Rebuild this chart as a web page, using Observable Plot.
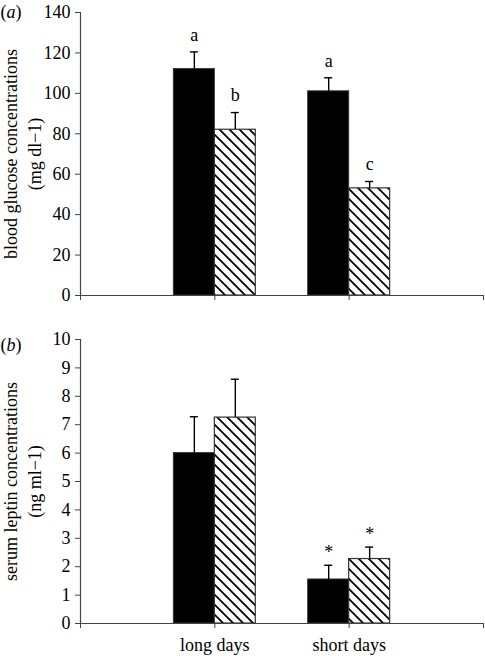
<!DOCTYPE html>
<html><head><meta charset="utf-8">
<script src="https://cdn.jsdelivr.net/npm/d3@7"></script>
<script src="https://cdn.jsdelivr.net/npm/@observablehq/plot@0.6"></script>
<style>body{margin:0;background:#fff} #chart > div, #chart svg{display:block}</style>
</head><body><div id="chart"></div>
<script>
// ---- data ----
const categories = ["long days", "short days"];
const groupPositions = [1, 2];
const xTickValues = [0, 1, 2, 3];

const glucoseControl = [112, 101];
const glucoseControlSe = [8.5, 6.7];
const glucoseTreated = [82, 53];
const glucoseTreatedSe = [8.5, 3.4];
const glucoseLabelsControl = ["a", "a"];
const glucoseLabelsTreated = ["b", "c"];
const glucoseTicks = [0, 20, 40, 60, 80, 100, 120, 140];

const leptinControl = [6.0, 1.55];
const leptinControlSe = [1.28, 0.5];
const leptinTreated = [7.25, 2.27];
const leptinTreatedSe = [1.35, 0.42];
const leptinLabelsControl = ["", "*"];
const leptinLabelsTreated = ["", "*"];
const leptinTicks = [0, 1, 2, 3, 4, 5, 6, 7, 8, 9, 10];

const BAR_W = 0.305;   // bar width in x units
const CAP = 0.03;      // half cap width in x units

function rowsFor(ctrl, ctrlSe, trt, trtSe, labC, labT) {
  const rows = [];
  groupPositions.forEach((g, i) => {
    rows.push({series: "control", x1: g - BAR_W, x2: g, xc: g - BAR_W / 2, y: ctrl[i], se: ctrlSe[i], label: labC[i]});
    rows.push({series: "treated", x1: g, x2: g + BAR_W, xc: g + BAR_W / 2, y: trt[i], se: trtSe[i], label: labT[i]});
  });
  return rows;
}

function panel(o) {
  const rows = rowsFor(o.ctrl, o.ctrlSe, o.trt, o.trtSe, o.labC, o.labT);
  const fmt = o.showX ? (d => (d >= 1 && d <= categories.length ? categories[d - 1] : "")) : (() => "");
  const svg = Plot.plot({
    width: 485,
    height: o.height,
    marginTop: o.marginTop,
    marginBottom: o.marginBottom,
    marginLeft: 80,
    marginRight: 2,
    style: {fontFamily: "'Liberation Serif', 'Times New Roman', serif", fontSize: "18px", background: "white", color: "black"},
    x: {domain: [0, 3], axis: null},
    y: {domain: o.yDomain, axis: null},
    marks: [
      Plot.rectY(rows.filter(d => d.series === "control"), {x1: "x1", x2: "x2", y1: 0, y2: "y", fill: "black", stroke: "#333", strokeWidth: 1}),
      Plot.rectY(rows.filter(d => d.series === "treated"), {x1: "x1", x2: "x2", y1: 0, y2: "y", fill: "url(#hatch)", stroke: "#333", strokeWidth: 1.2}),
      Plot.ruleX(rows, {x: "xc", y1: "y", y2: d => d.y + d.se, stroke: "black", strokeWidth: 1.4}),
      Plot.ruleY(rows, {y: d => d.y + d.se, x1: d => d.xc - CAP, x2: d => d.xc + CAP, stroke: "black", strokeWidth: 1.4}),
      Plot.text(rows, {x: "xc", y: d => d.y + d.se, text: "label", dy: o.labelDy, fontSize: 18, fill: "black"}),
      Plot.ruleX([0], {stroke: "#444", strokeWidth: 1.2}),
      Plot.ruleY([0], {stroke: "#444", strokeWidth: 1.2}),
      Plot.axisY({ticks: o.yTicks, tickSize: 5, tickPadding: 5, fontSize: 18, stroke: "#444", label: null}),
      Plot.axisX({ticks: xTickValues, tickFormat: fmt, tickSize: 5, tickPadding: 10, fontSize: 18, stroke: "#444", label: null}),
      Plot.text([o.ylab1], {frameAnchor: "left", textAnchor: "middle", lineAnchor: "middle", rotate: -90, dx: -69, fontSize: 18, fill: "black"}),
      Plot.text([o.ylab2], {frameAnchor: "left", textAnchor: "middle", lineAnchor: "middle", rotate: -90, dx: -45, fontSize: 18, fill: "black"}),
      Plot.text([o.tag], {frameAnchor: "top-left", dx: -80, dy: o.tagDy, textAnchor: "start", lineAnchor: "middle", fontSize: 18, fill: "black"})
    ]
  });
  const defs = d3.select(svg).insert("defs", ":first-child");
  const pat = defs.append("pattern").attr("id", "hatch").attr("patternUnits", "userSpaceOnUse")
    .attr("width", 10).attr("height", 10);
  pat.append("rect").attr("width", 10).attr("height", 10).attr("fill", "white");
  pat.append("path").attr("d", "M0,0L10,10M-5,5L5,15M5,-5L15,5").attr("stroke", "black").attr("stroke-width", 1.8);
  // italic panel letter
  d3.select(svg).selectAll("text").filter(function() { return this.textContent === o.tag; })
    .each(function() {
      const t = d3.select(this);
      t.text(null);
      t.append("tspan").text("(");
      t.append("tspan").attr("font-style", "italic").text(o.tag.slice(1, -1));
      t.append("tspan").text(")");
    });
  return svg;
}

const chart = document.getElementById("chart");
chart.appendChild(panel({
  height: 320, marginTop: 12, marginBottom: 25,
  yDomain: [0, 140], yTicks: glucoseTicks,
  ctrl: glucoseControl, ctrlSe: glucoseControlSe, trt: glucoseTreated, trtSe: glucoseTreatedSe,
  labC: glucoseLabelsControl, labT: glucoseLabelsTreated, labelDy: -17,
  ylab1: "blood glucose concentrations", ylab2: "(mg dl\u22121)",
  tag: "(a)", tagDy: 0, showX: false
}));
chart.appendChild(panel({
  height: 336, marginTop: 19, marginBottom: 33,
  yDomain: [0, 10], yTicks: leptinTicks,
  ctrl: leptinControl, ctrlSe: leptinControlSe, trt: leptinTreated, trtSe: leptinTreatedSe,
  labC: leptinLabelsControl, labT: leptinLabelsTreated, labelDy: -13,
  ylab1: "serum leptin concentrations", ylab2: "(ng ml\u22121)",
  tag: "(b)", tagDy: 6, showX: true
}));
</script></body></html>
